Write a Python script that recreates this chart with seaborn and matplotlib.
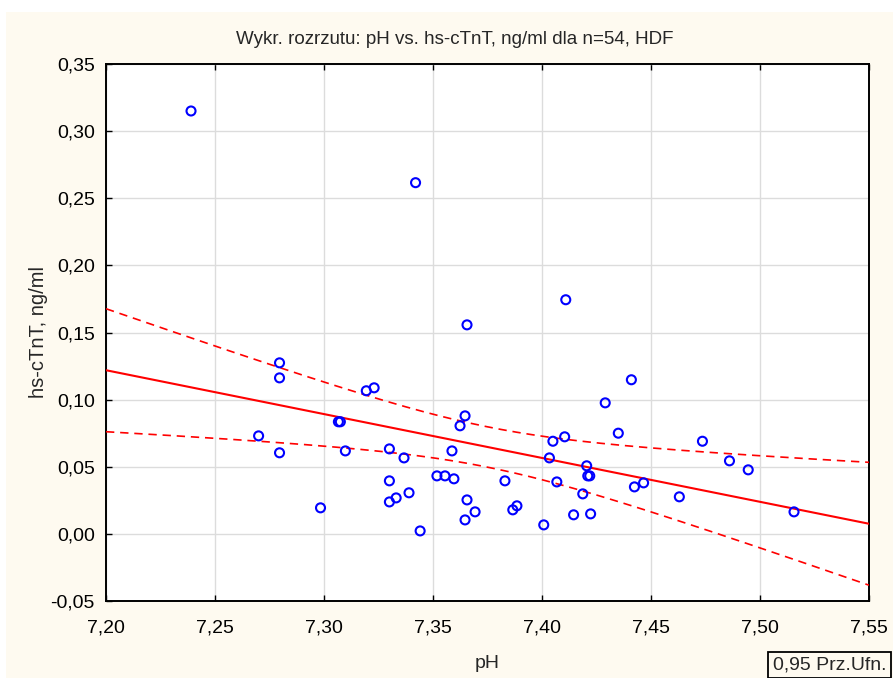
import numpy as np
import pandas as pd
import matplotlib
matplotlib.use("Agg")
import matplotlib.pyplot as plt
from matplotlib.patches import Rectangle
from matplotlib.ticker import FuncFormatter, MultipleLocator
import seaborn as sns

# ---- data ----
ph = [7.239, 7.342, 7.3656, 7.4109, 7.2796, 7.2796, 7.3194, 7.323, 7.441, 7.429,
      7.270, 7.3066, 7.3075, 7.3647, 7.3624, 7.4104, 7.405, 7.435, 7.4736, 7.2796,
      7.3098, 7.330, 7.3367, 7.3587, 7.4034, 7.4205, 7.4210, 7.4219, 7.486, 7.4946,
      7.2984, 7.330, 7.330, 7.3331, 7.339, 7.3441, 7.3518, 7.3555, 7.3596, 7.3647,
      7.3656, 7.3693, 7.383, 7.3866, 7.3885, 7.4008, 7.4068, 7.4145, 7.4187, 7.4223,
      7.4424, 7.4466, 7.463, 7.5156]
tnt = [0.315, 0.2616, 0.1557, 0.1744, 0.1274, 0.1162, 0.1066, 0.1088, 0.1148, 0.0976,
       0.073, 0.0835, 0.0835, 0.0879, 0.0805, 0.0723, 0.069, 0.075, 0.069, 0.0604,
       0.0618, 0.0633, 0.0566, 0.0618, 0.0566, 0.0507, 0.0432, 0.0432, 0.0544, 0.0477,
       0.0194, 0.0395, 0.0238, 0.0268, 0.0306, 0.0022, 0.0432, 0.0432, 0.041, 0.0104,
       0.0253, 0.0164, 0.0395, 0.0179, 0.0209, 0.0067, 0.0387, 0.0142, 0.0298, 0.0149,
       0.035, 0.038, 0.0276, 0.0164]

title = "Wykr. rozrzutu: pH vs. hs-cTnT, ng/ml dla n=54, HDF"
xlabel = "pH"
ylabel = "hs-cTnT, ng/ml"
legend_text = "0,95 Prz.Ufn."
xlim = (7.20, 7.55)
ylim = (-0.05, 0.35)

df = pd.DataFrame({"pH": ph, "tnt": tnt})

# ---- regression with analytic 95% confidence band ----
x = np.asarray(ph); y = np.asarray(tnt); n = len(x)
b, a = np.polyfit(x, y, 1)
res = y - (a + b * x)
s = np.sqrt(np.sum(res ** 2) / (n - 2))
sxx = np.sum((x - x.mean()) ** 2)
tcrit = 2.0066  # t(0.975, 52)
xs = np.linspace(xlim[0], xlim[1], 200)
yfit = a + b * xs
half = tcrit * s * np.sqrt(1.0 / n + (xs - x.mean()) ** 2 / sxx)
fit = pd.DataFrame({"x": xs, "fit": yfit, "lo": yfit - half, "hi": yfit + half})

# ---- style ----
sns.set_style("white")
plt.rcParams["font.family"] = ["Liberation Sans", "DejaVu Sans"]

cream = "#FEFAF0"
fig = plt.figure(figsize=(8.93, 6.78), dpi=100, facecolor="white")
fig.patches.append(Rectangle((6 / 893, 0), 1, 1 - 12 / 678, transform=fig.transFigure,
                             facecolor=cream, edgecolor="none", zorder=-10))
ax = fig.add_axes([106 / 893, 1 - 601 / 678, (869 - 106) / 893, (601 - 64) / 678])
ax.set_facecolor("white")

sns.lineplot(data=fit, x="x", y="fit", color="red", lw=1.5, ax=ax, zorder=3)
sns.lineplot(data=fit, x="x", y="lo", color="red", lw=1.2, ax=ax, zorder=3,
             dashes=False, linestyle=(0, (5, 3.5)))
sns.lineplot(data=fit, x="x", y="hi", color="red", lw=1.2, ax=ax, zorder=3,
             dashes=False, linestyle=(0, (5, 3.5)))
sns.scatterplot(data=df, x="pH", y="tnt", ax=ax, marker="o", s=42,
                facecolor="none", edgecolor="blue", linewidth=1.5, zorder=4)

ax.set_xlim(*xlim)
ax.set_ylim(*ylim)
ax.xaxis.set_major_locator(MultipleLocator(0.05))
ax.yaxis.set_major_locator(MultipleLocator(0.05))
fmt = FuncFormatter(lambda v, p: f"{v:.2f}".replace(".", ",").replace("-0,00", "0,00"))
ax.xaxis.set_major_formatter(fmt)
ax.yaxis.set_major_formatter(fmt)
ax.grid(True, color="#DCDCDC", lw=1.0)
ax.set_axisbelow(True)
for sp in ax.spines.values():
    sp.set_visible(True)
    sp.set_color("black")
    sp.set_linewidth(1.4)
ax.tick_params(axis="both", which="major", direction="in", length=4, width=1,
               top=True, bottom=True, left=True, right=False,
               labelsize=14, colors="black", pad=8)
ax.tick_params(axis="x", pad=13)

ax.set_xlabel(xlabel, fontsize=14)
ax.xaxis.set_label_coords(0.5, (601 - 663) / 537)
ax.xaxis.label.set_va("center")
ax.set_ylabel(ylabel, fontsize=14.5)
ax.yaxis.set_label_coords((38 - 106) / 763, 0.5)
ax.yaxis.label.set_va("center")
fig.text(455 / 893, 1 - 40 / 678, title, ha="center", va="center", fontsize=13.5)
fig.text(773 / 893, 1 - 665 / 678, legend_text, ha="left", va="center", fontsize=14,
         bbox=dict(boxstyle="square,pad=0.25", facecolor=cream, edgecolor="black", lw=1.3))

fig.savefig("out.png", dpi=100, facecolor=fig.get_facecolor())
